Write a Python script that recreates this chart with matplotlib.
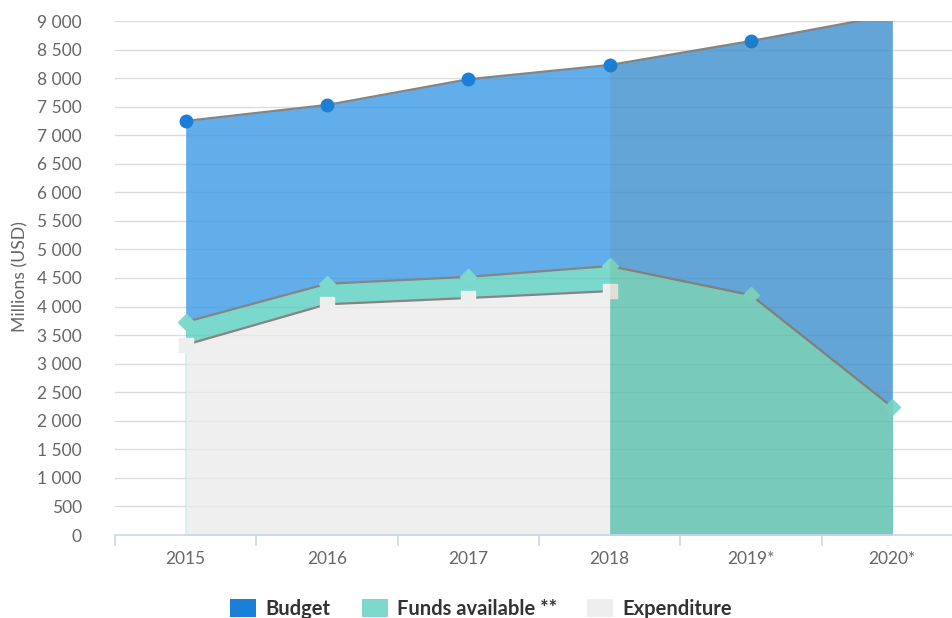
import matplotlib
matplotlib.use("Agg")
import matplotlib.pyplot as plt
from matplotlib.patches import Rectangle
from matplotlib.ticker import FuncFormatter, MultipleLocator, FixedLocator

plt.rcParams['font.family'] = ['Lato', 'DejaVu Sans']

categories = ["2015", "2016", "2017", "2018", "2019*", "2020*"]
budget = [7250, 7530, 7980, 8230, 8650, 9110]
funds_available = [3730, 4400, 4520, 4710, 4200, 2240]
expenditure = [3330, 4040, 4150, 4270]

W, H = 952, 618
fig = plt.figure(figsize=(W / 100, H / 100), dpi=100)
left_px, right_px, top_px, bot_px = 115, 963, 21, 535
ax = fig.add_axes([left_px / W, 1 - bot_px / H, (right_px - left_px) / W, (bot_px - top_px) / H])
ax.set_facecolor('white')

x_all = list(range(len(categories)))
x_exp = list(range(len(expenditure)))
zone_start = 3  # forecast zone begins at 2018
y_max = 9000

c_budget_fill = '#62aeea'
c_funds_fill = '#7ad8cc'
c_exp_fill = '#efefef'
c_line = '#858585'

# gridlines beneath (visible on white)
for v in range(500, y_max + 1, 500):
    ax.axhline(v, color='#e6e6e6', lw=1, zorder=0.5)

ax.fill_between(x_all, 0, budget, color=c_budget_fill, lw=0, zorder=1)
ax.fill_between(x_all, 0, funds_available, color=c_funds_fill, lw=0, zorder=2)
ax.fill_between(x_exp, 0, expenditure, color=c_exp_fill, lw=0, zorder=3)
ax.plot([0, 0], [0, expenditure[0]], color='#d6eef0', lw=1.2, zorder=3.5)

# faint gridlines showing through the areas
for v in range(500, y_max + 1, 500):
    ax.axhline(v, color=(0, 0, 0, 0.04), lw=1, zorder=4)

ax.plot(x_all, budget, color=c_line, lw=1.6, zorder=5)
ax.plot(x_all, funds_available, color=c_line, lw=1.6, zorder=5)
ax.plot(x_exp, expenditure, color=c_line, lw=1.6, zorder=5)

bx = [x for x, v in zip(x_all, budget) if v <= y_max]
bv = [v for v in budget if v <= y_max]
ax.plot(bx, bv, ls='none', marker='o', ms=9, color='#1a7fd6', zorder=6)
ax.plot(x_all, funds_available, ls='none', marker='D', ms=8, color='#7dd9cc', zorder=6, clip_on=False)
ax.plot(x_exp, expenditure, ls='none', marker='s', ms=9.5, color='#eeeeee', zorder=6, clip_on=False)

# forecast zone overlay (only under the budget area)
ax.fill_between(x_all[zone_start:], 0, budget[zone_start:], color='#6b5a2a', alpha=0.1, lw=0, zorder=7)

ax.set_xlim(-0.5, 5.5)
ax.set_ylim(0, y_max)

for s in ['top', 'right', 'left']:
    ax.spines[s].set_visible(False)
ax.spines['bottom'].set_color('#ccd6eb')
ax.spines['bottom'].set_linewidth(1.2)
ax.spines['bottom'].set_zorder(8)

ax.set_xticks(x_all)
ax.set_xticklabels(categories)
ax.xaxis.set_minor_locator(FixedLocator([i - 0.5 for i in range(len(categories) + 1)]))
ax.tick_params(axis='x', which='major', length=0, pad=11.5, labelsize=12.5, labelcolor='#666666')
ax.tick_params(axis='x', which='minor', length=8, width=1.2, color='#ccd6eb')

ax.yaxis.set_major_locator(MultipleLocator(500))
ax.yaxis.set_major_formatter(FuncFormatter(lambda v, p: f"{int(v):,}".replace(',', ' ')))
ax.tick_params(axis='y', length=0, pad=24, labelsize=12.5, labelcolor='#666666')

fig.text(20 / W, 1 - 277 / H, 'Millions (USD)', rotation=90, ha='center', va='center',
         fontsize=12.7, color='#666666')

# legend
items = [("Budget", '#1a7fd6', 230), ("Funds available **", '#7dd9cc', 362), ("Expenditure", '#eeeeee', 587)]
for label, col, xp in items:
    fig.patches.append(Rectangle((xp / W, 1 - 617 / H), 26 / W, 18 / H, transform=fig.transFigure,
                                 facecolor=col, edgecolor='none'))
    fig.text((xp + 35) / W, 1 - 609 / H, label, ha='left', va='center', fontsize=14.5,
             fontweight='bold', color='#333333')

fig.savefig('out.png', dpi=100)
